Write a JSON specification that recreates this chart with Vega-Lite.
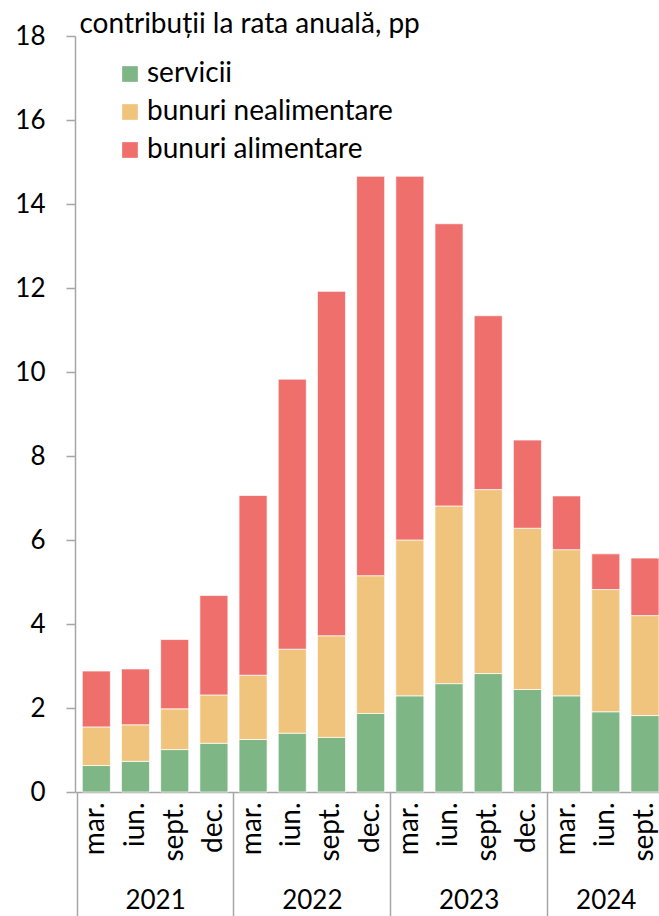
{
  "$schema": "https://vega.github.io/schema/vega-lite/v6.json",
  "width": 584,
  "height": 756,
  "autosize": {"type": "none"},
  "padding": {"left": 75, "top": 36, "right": 0, "bottom": 124},
  "background": "white",
  "config": {"view": {"stroke": null}, "font": "Lato"},
  "data": {
    "values": [
      {"perioada": "mar. 2021", "categorie": "servicii", "valoare": 0.63},
      {"perioada": "mar. 2021", "categorie": "bunuri nealimentare", "valoare": 0.92},
      {"perioada": "mar. 2021", "categorie": "bunuri alimentare", "valoare": 1.33},
      {"perioada": "iun. 2021", "categorie": "servicii", "valoare": 0.73},
      {"perioada": "iun. 2021", "categorie": "bunuri nealimentare", "valoare": 0.87},
      {"perioada": "iun. 2021", "categorie": "bunuri alimentare", "valoare": 1.33},
      {"perioada": "sept. 2021", "categorie": "servicii", "valoare": 1.01},
      {"perioada": "sept. 2021", "categorie": "bunuri nealimentare", "valoare": 0.97},
      {"perioada": "sept. 2021", "categorie": "bunuri alimentare", "valoare": 1.65},
      {"perioada": "dec. 2021", "categorie": "servicii", "valoare": 1.16},
      {"perioada": "dec. 2021", "categorie": "bunuri nealimentare", "valoare": 1.15},
      {"perioada": "dec. 2021", "categorie": "bunuri alimentare", "valoare": 2.37},
      {"perioada": "mar. 2022", "categorie": "servicii", "valoare": 1.25},
      {"perioada": "mar. 2022", "categorie": "bunuri nealimentare", "valoare": 1.53},
      {"perioada": "mar. 2022", "categorie": "bunuri alimentare", "valoare": 4.28},
      {"perioada": "iun. 2022", "categorie": "servicii", "valoare": 1.40},
      {"perioada": "iun. 2022", "categorie": "bunuri nealimentare", "valoare": 2.00},
      {"perioada": "iun. 2022", "categorie": "bunuri alimentare", "valoare": 6.43},
      {"perioada": "sept. 2022", "categorie": "servicii", "valoare": 1.30},
      {"perioada": "sept. 2022", "categorie": "bunuri nealimentare", "valoare": 2.42},
      {"perioada": "sept. 2022", "categorie": "bunuri alimentare", "valoare": 8.20},
      {"perioada": "dec. 2022", "categorie": "servicii", "valoare": 1.87},
      {"perioada": "dec. 2022", "categorie": "bunuri nealimentare", "valoare": 3.28},
      {"perioada": "dec. 2022", "categorie": "bunuri alimentare", "valoare": 9.51},
      {"perioada": "mar. 2023", "categorie": "servicii", "valoare": 2.29},
      {"perioada": "mar. 2023", "categorie": "bunuri nealimentare", "valoare": 3.71},
      {"perioada": "mar. 2023", "categorie": "bunuri alimentare", "valoare": 8.66},
      {"perioada": "iun. 2023", "categorie": "servicii", "valoare": 2.58},
      {"perioada": "iun. 2023", "categorie": "bunuri nealimentare", "valoare": 4.23},
      {"perioada": "iun. 2023", "categorie": "bunuri alimentare", "valoare": 6.72},
      {"perioada": "sept. 2023", "categorie": "servicii", "valoare": 2.82},
      {"perioada": "sept. 2023", "categorie": "bunuri nealimentare", "valoare": 4.38},
      {"perioada": "sept. 2023", "categorie": "bunuri alimentare", "valoare": 4.14},
      {"perioada": "dec. 2023", "categorie": "servicii", "valoare": 2.44},
      {"perioada": "dec. 2023", "categorie": "bunuri nealimentare", "valoare": 3.84},
      {"perioada": "dec. 2023", "categorie": "bunuri alimentare", "valoare": 2.10},
      {"perioada": "mar. 2024", "categorie": "servicii", "valoare": 2.29},
      {"perioada": "mar. 2024", "categorie": "bunuri nealimentare", "valoare": 3.48},
      {"perioada": "mar. 2024", "categorie": "bunuri alimentare", "valoare": 1.28},
      {"perioada": "iun. 2024", "categorie": "servicii", "valoare": 1.91},
      {"perioada": "iun. 2024", "categorie": "bunuri nealimentare", "valoare": 2.91},
      {"perioada": "iun. 2024", "categorie": "bunuri alimentare", "valoare": 0.85},
      {"perioada": "sept. 2024", "categorie": "servicii", "valoare": 1.82},
      {"perioada": "sept. 2024", "categorie": "bunuri nealimentare", "valoare": 2.38},
      {"perioada": "sept. 2024", "categorie": "bunuri alimentare", "valoare": 1.37}
    ]
  },
  "layer": [
    {
      "mark": {"type": "bar", "stroke": "white", "strokeWidth": 0.7},
      "encoding": {
        "x": {
          "field": "perioada",
          "type": "nominal",
          "sort": null,
          "scale": {"paddingInner": 0.284, "paddingOuter": 0.093, "align": 1},
          "axis": {
            "title": null,
            "labelExpr": "split(datum.value, ' ')[0]",
            "labelAngle": -90,
            "labelAlign": "right",
            "labelBaseline": "middle",
            "labelPadding": 10,
            "ticks": false,
            "grid": false,
            "domainColor": "#a6a6a6",
            "domainWidth": 1.5,
            "labelFontSize": 28,
            "labelFont": "Lato",
            "labelColor": "black",
            "labelOverlap": false
          }
        },
        "y": {
          "field": "valoare",
          "type": "quantitative",
          "stack": "zero",
          "scale": {"domain": [0, 18], "nice": false},
          "axis": {
            "values": [0, 2, 4, 6, 8, 10, 12, 14, 16, 18],
            "title": "contribuții la rata anuală, pp",
            "titleAngle": 0,
            "titleX": 4,
            "titleY": -4,
            "titleAlign": "left",
            "titleBaseline": "alphabetic",
            "titleFontSize": 28,
            "titleFont": "Lato",
            "titleFontWeight": "normal",
            "titleColor": "black",
            "grid": false,
            "domainColor": "#a6a6a6",
            "domainWidth": 1.5,
            "tickColor": "#a6a6a6",
            "tickWidth": 1.5,
            "tickSize": 9,
            "labelPadding": 21,
            "labelFontSize": 26,
            "labelFont": "Lato",
            "labelColor": "black"
          }
        },
        "color": {
          "field": "categorie",
          "type": "nominal",
          "scale": {
            "domain": ["servicii", "bunuri nealimentare", "bunuri alimentare"],
            "range": ["#7FB685", "#F0C47C", "#EF6F6C"]
          },
          "legend": {
            "orient": "none",
            "legendX": 41,
            "legendY": 24,
            "title": null,
            "symbolType": "square",
            "symbolSize": 246,
            "symbolStrokeWidth": 0,
            "symbolOpacity": 1,
            "labelFontSize": 28,
            "labelFont": "Lato",
            "labelColor": "black",
            "labelOffset": 3,
            "labelLimit": 0,
            "rowPadding": 10
          }
        }
      }
    },
    {
      "data": {"values": [{}]},
      "mark": {"type": "rule", "opacity": 0},
      "encoding": {
        "x": {
          "datum": 0,
          "type": "quantitative",
          "scale": {"domain": [-0.0434, 14.858], "nice": false, "zero": false},
          "axis": {
            "orient": "bottom",
            "title": null,
            "values": [0, 2, 4, 6, 8, 10, 12, 13.5],
            "domain": false,
            "grid": false,
            "ticks": true,
            "tickSize": 124,
            "tickWidth": 1.5,
            "tickColor": {"condition": {"test": "datum.value % 4 == 0", "value": "#a6a6a6"}, "value": "transparent"},
            "labelExpr": "datum.value == 2 ? '2021' : datum.value == 6 ? '2022' : datum.value == 10 ? '2023' : datum.value == 13.5 ? '2024' : ''",
            "labelBaseline": "alphabetic",
            "labelPadding": -8,
            "labelFontSize": 26,
            "labelFont": "Lato",
            "labelColor": "black",
            "labelOverlap": false,
            "labelFlush": false,
            "labelBound": false
          }
        }
      }
    }
  ],
  "resolve": {"scale": {"x": "independent"}, "axis": {"x": "independent"}}
}
